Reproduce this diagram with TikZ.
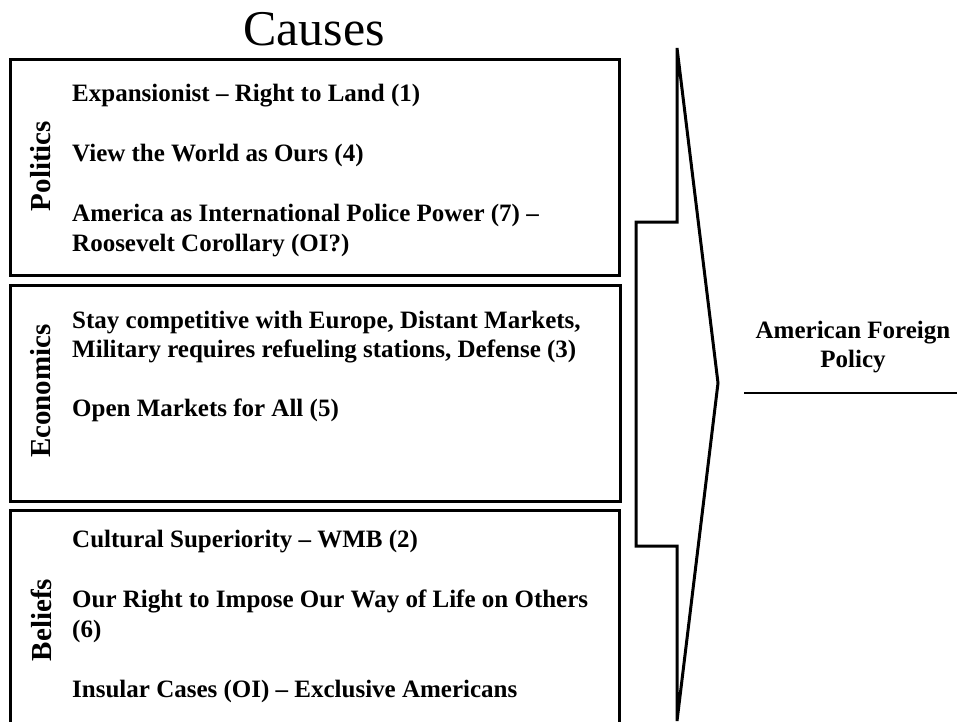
\documentclass[tikz,border=0pt]{standalone}
\usepackage{fontspec}
\setmainfont{Liberation Serif}
\begin{document}
\begin{tikzpicture}[x=1pt,y=-1pt,
  panel/.style={draw=black,line width=3pt},
  item/.style={anchor=base west,inner sep=0pt,font=\bfseries\fontsize{25}{30}\selectfont},
  side/.style={rotate=90,inner sep=0pt,font=\bfseries\fontsize{29}{30}\selectfont},
  chev/.style={draw=black,line width=3pt,line join=miter}]
\useasboundingbox (0,0) rectangle (957,721);
\node[inner sep=0pt,font=\fontsize{50}{54}\selectfont] (title) at (314,29) {Causes};
\draw[panel] (10,59) rectangle (619,275);
\draw[panel] (10,285) rectangle (620,501);
\draw[panel] (10,510) rectangle (619,730);
\node[side] (pol) at (41,166) {Politics};
\node[side] (eco) at (41,391) {Economics};
\node[side] (bel) at (41,620) {Beliefs};
\node[item] (p1) at (72,101) {Expansionist – Right to Land (1)};
\node[item] (p2) at (72,161) {View the World as Ours (4)};
\node[item] (p3) at (72,221) {America as International Police Power (7) –};
\node[item] (p4) at (72,251) {Roosevelt Corollary (OI?)};
\node[item] (e1) at (72,328) {Stay competitive with Europe, Distant Markets,};
\node[item] (e2) at (72,357) {Military requires refueling stations, Defense (3)};
\node[item] (e3) at (72,416) {Open Markets for All (5)};
\node[item] (b1) at (72,547) {Cultural Superiority – WMB (2)};
\node[item] (b2) at (72,607) {Our Right to Impose Our Way of Life on Others};
\node[item] (b3) at (72,637) {(6)};
\node[item] (b4) at (72,697) {Insular Cases (OI) – Exclusive Americans};
\draw[chev] (677,48) -- (677,222) -- (636,222) -- (636,546) -- (677,546) -- (677,721) -- (718,383) -- cycle;
\node[align=center,inner sep=0pt,font=\bfseries\fontsize{25}{29}\selectfont] (afp) at (853,347) {American Foreign\\Policy};
\coordinate (l1) at (744,393);
\coordinate (l2) at (957,393);
\draw[line width=2pt] (l1) -- (l2);
\end{tikzpicture}
\end{document}
